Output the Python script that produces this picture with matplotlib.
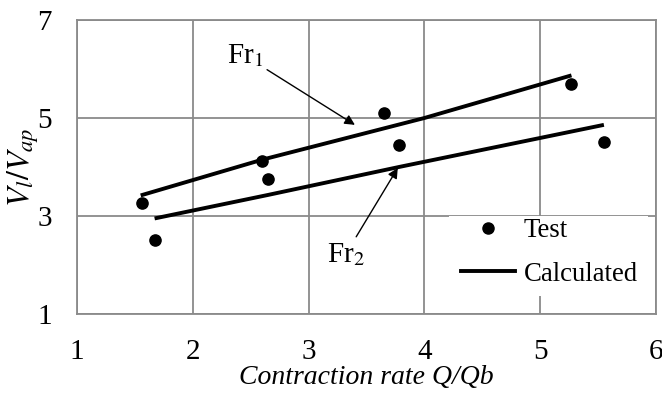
import matplotlib
matplotlib.use("Agg")
import matplotlib.pyplot as plt
from matplotlib.lines import Line2D
from matplotlib.patches import Rectangle

# Data
test_x = [1.56, 1.67, 2.60, 2.65, 3.65, 3.78, 5.27, 5.55]
test_y = [3.27, 2.51, 4.13, 3.76, 5.10, 4.44, 5.69, 4.52]
fr1_x = [1.55, 2.60, 4.00, 5.27]
fr1_y = [3.42, 4.15, 5.00, 5.87]
fr2_x = [1.67, 2.65, 3.78, 5.55]
fr2_y = [2.95, 3.43, 4.00, 4.86]
xticks = [1, 2, 3, 4, 5, 6]
yticks = [1, 3, 5, 7]

serif = ["Liberation Serif", "DejaVu Serif"]
plt.rcParams["font.family"] = serif
plt.rcParams["mathtext.fontset"] = "stix"

fig = plt.figure(figsize=(6.62, 3.94), dpi=100)
ax = fig.add_axes([77/662, 1-314/394, (656-77)/662, (314-20)/394])
ax.set_xlim(1, 6)
ax.set_ylim(1, 7)
ax.set_xticks(xticks)
ax.set_yticks(yticks)
ax.grid(True, color="#8a8a8a", lw=1.3)
ax.set_axisbelow(True)
for s in ax.spines.values():
    s.set_color("#8a8a8a")
    s.set_linewidth(1.3)
ax.tick_params(length=0, labelsize=21)
ax.tick_params(axis="y", pad=18)
ax.tick_params(axis="x", pad=18)

# white legend background area (covers grid like the original)
ax.add_patch(Rectangle((0.642, 0.062), 0.345, 0.273, transform=ax.transAxes,
                       facecolor="white", edgecolor="none", zorder=2))

ax.plot(fr1_x, fr1_y, color="black", lw=2.8, solid_capstyle="butt", zorder=3)
ax.plot(fr2_x, fr2_y, color="black", lw=2.8, solid_capstyle="butt", zorder=3)
ax.scatter(test_x, test_y, s=65, color="black", zorder=4)

ax.annotate("Fr$_1$", xy=(3.40, 4.86), xytext=(2.45, 6.27), fontsize=21,
            ha="center", va="center",
            arrowprops=dict(arrowstyle="-|>", color="black", lw=1.0,
                            shrinkA=1, shrinkB=0, mutation_scale=15))
ax.annotate("Fr$_2$", xy=(3.77, 3.98), xytext=(3.32, 2.22), fontsize=21,
            ha="center", va="center",
            arrowprops=dict(arrowstyle="-|>", color="black", lw=1.0,
                            shrinkA=1, shrinkB=0, mutation_scale=15))

handles = [Line2D([], [], marker="o", color="black", ls="none", markersize=8),
           Line2D([], [], color="black", lw=2.8)]
leg = ax.legend(handles, ["Test", "Calculated"], loc="upper left",
                bbox_to_anchor=(0.661, 0.330), borderaxespad=0,
                frameon=False,
                fontsize=19.3, handlelength=2.0, handletextpad=0.35,
                labelspacing=0.68, borderpad=0.05)
leg.set_zorder(5)

ax.set_xlabel("Contraction rate Q/Qb", fontsize=20, style="italic")
ax.xaxis.set_label_coords(0.5, -0.172)
ax.set_ylabel("$V_l/V_{ap}$", fontsize=23)
ax.yaxis.set_label_coords(-0.062, 0.5)

fig.savefig("out.png", dpi=100)
